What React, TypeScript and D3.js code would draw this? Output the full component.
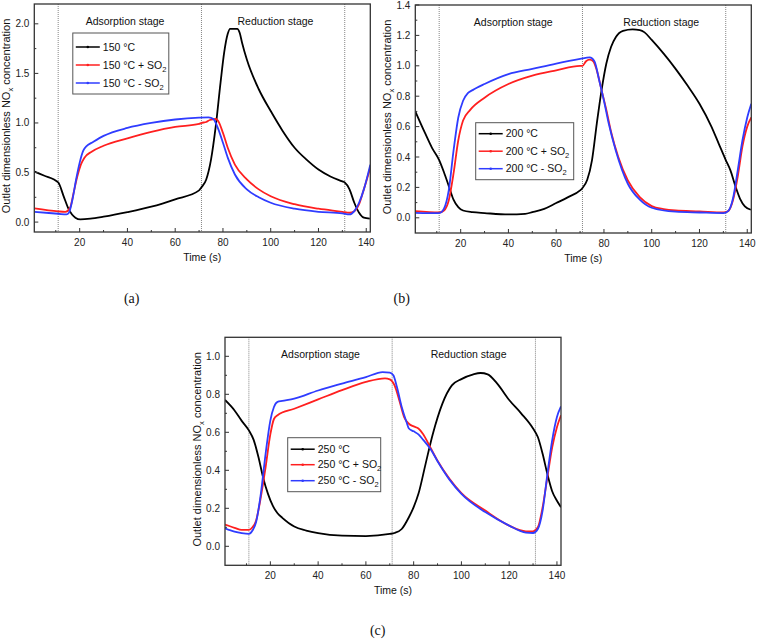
import React from "react";
import * as d3 from "d3";

type Pt = [number, number];

// shared axis values
const stageMarks = [11, 71, 131];
const xMajor = [20, 40, 60, 80, 100, 120, 140];
const xMinor = [10, 30, 50, 70, 90, 110, 130];
const xDomain: [number, number] = [1, 141.7];
const seriesColors = ["#000000", "#ff1f1f", "#2f3cff"];
const seriesSuffix = ["", " + SO", " - SO"];

// (a) 150 °C
const a150: Pt[] = [[1.1,0.51],[5,0.47],[11,0.40],[13.3,0.26],[15.4,0.13],[18.2,0.044],[20.3,0.027],[24.5,0.034],[30,0.054],[40,0.10],[50,0.155],[60,0.23],[70,0.32],[71,0.35],[73,0.43],[75,0.63],[77,0.97],[79,1.41],[80.5,1.71],[82,1.90],[83,1.95],[86,1.95],[87,1.91],[88,1.81],[90,1.64],[95,1.34],[100,1.12],[105,0.92],[110,0.75],[115,0.63],[120,0.53],[125,0.46],[130,0.41],[131,0.40],[133,0.33],[135,0.195],[137,0.094],[139,0.044],[141.5,0.034]];
const a150Plus: Pt[] = [[1.1,0.138],[11,0.108],[14,0.104],[16,0.145],[17.5,0.30],[19,0.46],[20.5,0.58],[22,0.65],[25,0.71],[30,0.77],[40,0.845],[50,0.91],[60,0.96],[70,0.99],[71,1.0],[73,1.01],[74.5,1.03],[77,1.04],[78,1.02],[80,0.90],[82,0.75],[85,0.58],[90,0.43],[95,0.33],[100,0.26],[110,0.18],[120,0.135],[130,0.104],[133,0.094],[135,0.11],[137,0.18],[139,0.33],[141.7,0.55]];
const a150Minus: Pt[] = [[1.1,0.104],[11,0.084],[14.5,0.077],[15.5,0.094],[17,0.23],[18.5,0.43],[20,0.60],[21.5,0.72],[23,0.77],[25,0.80],[30,0.87],[40,0.95],[50,1.0],[60,1.035],[70,1.054],[74,1.057],[76,1.04],[78,0.94],[80,0.80],[82,0.65],[85,0.48],[90,0.33],[95,0.25],[100,0.195],[110,0.135],[120,0.104],[130,0.088],[133,0.077],[135,0.11],[137,0.195],[139,0.33],[141.7,0.58]];

// (b) 200 °C
const b200: Pt[] = [[1,0.70],[5,0.56],[8,0.46],[11,0.38],[13,0.30],[15,0.21],[17,0.12],[19,0.07],[21,0.048],[25,0.037],[30,0.031],[40,0.022],[47,0.026],[50,0.037],[55,0.059],[60,0.097],[65,0.136],[70,0.18],[71,0.196],[73,0.25],[75,0.38],[77,0.62],[79,0.84],[81,1.015],[83,1.125],[85,1.19],[88,1.23],[92,1.24],[95,1.235],[97,1.22],[100,1.17],[105,1.08],[110,0.98],[115,0.87],[120,0.75],[125,0.60],[128,0.49],[131,0.38],[133,0.31],[135,0.21],[137,0.125],[139,0.075],[141.5,0.053]];
const b200Plus: Pt[] = [[1,0.044],[11,0.035],[13,0.048],[15,0.114],[17,0.29],[19,0.51],[21,0.64],[24,0.71],[30,0.79],[40,0.88],[50,0.935],[60,0.97],[70,1.0],[71,1.0],[72.5,1.03],[74,1.04],[75.5,1.03],[77,0.97],[79,0.84],[81,0.71],[83,0.565],[86,0.40],[90,0.246],[95,0.136],[100,0.077],[105,0.057],[110,0.048],[120,0.042],[130,0.035],[132,0.044],[134,0.114],[136,0.27],[138,0.47],[140,0.60],[141.7,0.66]];
const b200Minus: Pt[] = [[1,0.033],[11,0.031],[13,0.06],[15,0.18],[17,0.44],[19,0.66],[21,0.77],[23,0.82],[25,0.84],[30,0.88],[40,0.945],[50,0.98],[60,1.015],[70,1.045],[74,1.055],[76,1.03],[78,0.905],[80,0.77],[82,0.62],[85,0.44],[90,0.224],[95,0.119],[100,0.066],[110,0.04],[120,0.035],[130,0.031],[132,0.044],[134,0.125],[136,0.31],[138,0.51],[140,0.66],[141.7,0.75]];

// (c) 250 °C
const c250: Pt[] = [[1,0.77],[5,0.715],[8,0.66],[11,0.61],[13,0.56],[15,0.47],[17,0.36],[19,0.276],[21,0.214],[23,0.174],[25,0.15],[30,0.104],[35,0.083],[40,0.069],[50,0.056],[60,0.054],[70,0.065],[72,0.07],[75,0.091],[78,0.153],[80,0.206],[82,0.276],[85,0.434],[88,0.59],[92,0.75],[96,0.847],[100,0.88],[105,0.905],[108,0.912],[111,0.905],[115,0.856],[120,0.77],[125,0.70],[130,0.62],[132,0.575],[134,0.487],[136,0.38],[138,0.29],[140,0.24],[141.7,0.206]];
const c250Plus: Pt[] = [[1,0.114],[5,0.097],[8,0.086],[11,0.086],[12.5,0.10],[14,0.135],[16,0.258],[18,0.416],[20,0.59],[21.5,0.67],[23,0.69],[30,0.724],[40,0.773],[50,0.822],[60,0.865],[68,0.884],[70,0.879],[72,0.847],[74,0.768],[76,0.68],[78,0.645],[80,0.631],[82,0.62],[84,0.59],[87,0.52],[90,0.45],[95,0.355],[100,0.28],[110,0.188],[120,0.109],[127,0.079],[130,0.079],[132,0.10],[134,0.206],[136,0.364],[138,0.52],[140,0.627],[141.7,0.69]];
const c250Minus: Pt[] = [[1,0.095],[5,0.077],[8,0.069],[11,0.065],[12.5,0.083],[14,0.127],[16,0.276],[18,0.487],[20,0.663],[21.5,0.733],[23,0.76],[25,0.765],[30,0.777],[40,0.82],[50,0.856],[60,0.89],[67,0.917],[70,0.914],[71.5,0.90],[73,0.838],[75,0.733],[77,0.654],[78,0.62],[80,0.605],[82,0.589],[84,0.56],[87,0.513],[90,0.448],[95,0.351],[100,0.276],[110,0.18],[120,0.109],[127,0.072],[130,0.07],[132,0.091],[134,0.188],[136,0.38],[138,0.557],[140,0.68],[141.7,0.736]];

const W = 336;
const H = 228;
const FONT = "Arial, 'Liberation Sans', sans-serif";

type PanelProps = {
  id: string;
  left: number;
  top: number;
  temp: string;
  yDomain: [number, number];
  yMajor: number[];
  yMinor: number[];
  yFmt: string;
  series: Pt[][];
  stageX: [number, number];
  legend: { x: number; y: number; w: number; rows: number[] };
  tag: string;
  tagPos: [number, number];
};

function Panel(p: PanelProps) {
  const x = d3.scaleLinear().domain(xDomain).range([0, W]);
  const y = d3.scaleLinear().domain(p.yDomain).range([H, 0]);
  const line = d3
    .line<Pt>()
    .x((d) => x(d[0]))
    .y((d) => y(d[1]))
    .curve(d3.curveMonotoneX);
  const fmt = d3.format(p.yFmt);
  const lg = p.legend;

  return (
    <g>
      <g transform={`translate(${p.left},${p.top})`}>
        <clipPath id={`clip-${p.id}`}>
          <rect width={W} height={H} />
        </clipPath>
        {stageMarks.map((s) => (
          <line key={s} x1={x(s)} x2={x(s)} y1={0} y2={H} stroke="#777" strokeWidth={0.9} strokeDasharray="1,1" />
        ))}
        <g clipPath={`url(#clip-${p.id})`}>
          {p.series.map((s, i) => (
            <path key={i} d={line(s) || ""} fill="none" stroke={seriesColors[i]} strokeWidth={1.8} strokeLinejoin="round" />
          ))}
        </g>
        <rect width={W} height={H} fill="none" stroke="#333" strokeWidth={1.3} />
        {xMajor.map((t) => (
          <g key={t}>
            <line x1={x(t)} x2={x(t)} y1={H} y2={H - 4} stroke="#333" strokeWidth={1} />
            <text x={x(t)} y={H + 14} textAnchor="middle" fontSize={10} fontFamily={FONT} fill="#222">{t}</text>
          </g>
        ))}
        {xMinor.map((t) => (
          <line key={t} x1={x(t)} x2={x(t)} y1={H} y2={H - 2} stroke="#333" strokeWidth={1} />
        ))}
        {p.yMajor.map((t) => (
          <g key={t}>
            <line x1={0} x2={4} y1={y(t)} y2={y(t)} stroke="#333" strokeWidth={1} />
            <text x={-5} y={y(t)} dy="0.35em" textAnchor="end" fontSize={10} fontFamily={FONT} fill="#222">{fmt(t)}</text>
          </g>
        ))}
        {p.yMinor.map((t) => (
          <line key={t} x1={0} x2={2} y1={y(t)} y2={y(t)} stroke="#333" strokeWidth={1} />
        ))}
        <text x={W / 2} y={H + 29} textAnchor="middle" fontSize={10.5} fontFamily={FONT} fill="#111">Time (s)</text>
        <text transform={`translate(-24,${H / 2 - 2}) rotate(-90)`} textAnchor="middle" fontSize={11} fontFamily={FONT} fill="#111">
          Outlet dimensionless NO<tspan fontSize={7.5} dy={3}>x</tspan><tspan dy={-3}> concentration</tspan>
        </text>
        <text x={x(p.stageX[0])} y={21} textAnchor="middle" fontSize={10.5} fontFamily={FONT} fill="#111">Adsorption stage</text>
        <text x={x(p.stageX[1])} y={21} textAnchor="middle" fontSize={10.5} fontFamily={FONT} fill="#111">Reduction stage</text>
        <g transform={`translate(${lg.x},${lg.y})`}>
          <rect width={lg.w} height={lg.rows[2] + 11} fill="#fff" stroke="#555" strokeWidth={1} />
          {lg.rows.map((ry, i) => (
            <g key={i}>
              <line x1={3} x2={27} y1={ry} y2={ry} stroke={seriesColors[i]} strokeWidth={1.5} />
              <circle cx={15} cy={ry} r={1.3} fill={seriesColors[i]} />
              <text x={30} y={ry} dy="0.35em" fontSize={10.5} fontFamily={FONT} fill="#111">
                {p.temp} °C{seriesSuffix[i]}
                {i > 0 && <tspan fontSize={7.5} dy={3}>2</tspan>}
              </text>
            </g>
          ))}
        </g>
      </g>
      <text x={p.tagPos[0]} y={p.tagPos[1]} textAnchor="middle" fontSize={14} fontFamily="'Liberation Serif', 'Times New Roman', serif" fill="#111">{p.tag}</text>
    </g>
  );
}

export default function App() {
  return (
    <svg width={758} height={641} style={{ display: "block", position: "absolute", left: 0, top: 0, background: "#fff" }}>
      <Panel
        id="a" left={34.3} top={4} temp="150"
        yDomain={[-0.1, 2.2]} yMajor={[0, 0.5, 1, 1.5, 2]} yMinor={[0.25, 0.75, 1.25, 1.75]} yFmt=".1f"
        series={[a150, a150Plus, a150Minus]}
        stageX={[39, 102]}
        legend={{ x: 38.5, y: 29, w: 96, rows: [14, 32, 50] }}
        tag="(a)" tagPos={[131.7, 303]}
      />
      <Panel
        id="b" left={415.3} top={5} temp="200"
        yDomain={[-0.1, 1.4]} yMajor={[0, 0.2, 0.4, 0.6, 0.8, 1, 1.2, 1.4]} yMinor={[0.1, 0.3, 0.5, 0.7, 0.9, 1.1, 1.3]} yFmt=".1f"
        series={[b200, b200Plus, b200Minus]}
        stageX={[42, 104]}
        legend={{ x: 60.4, y: 117.7, w: 98, rows: [11, 28.5, 46] }}
        tag="(b)" tagPos={[401.7, 303]}
      />
      <Panel
        id="c" left={225} top={337.3} temp="250"
        yDomain={[-0.1, 1.1]} yMajor={[0, 0.2, 0.4, 0.6, 0.8, 1]} yMinor={[0.1, 0.3, 0.5, 0.7, 0.9]} yFmt=".1f"
        series={[c250, c250Plus, c250Minus]}
        stageX={[41, 103]}
        legend={{ x: 62.7, y: 100.4, w: 93, rows: [11.5, 27, 43] }}
        tag="(c)" tagPos={[377.7, 635]}
      />
    </svg>
  );
}
